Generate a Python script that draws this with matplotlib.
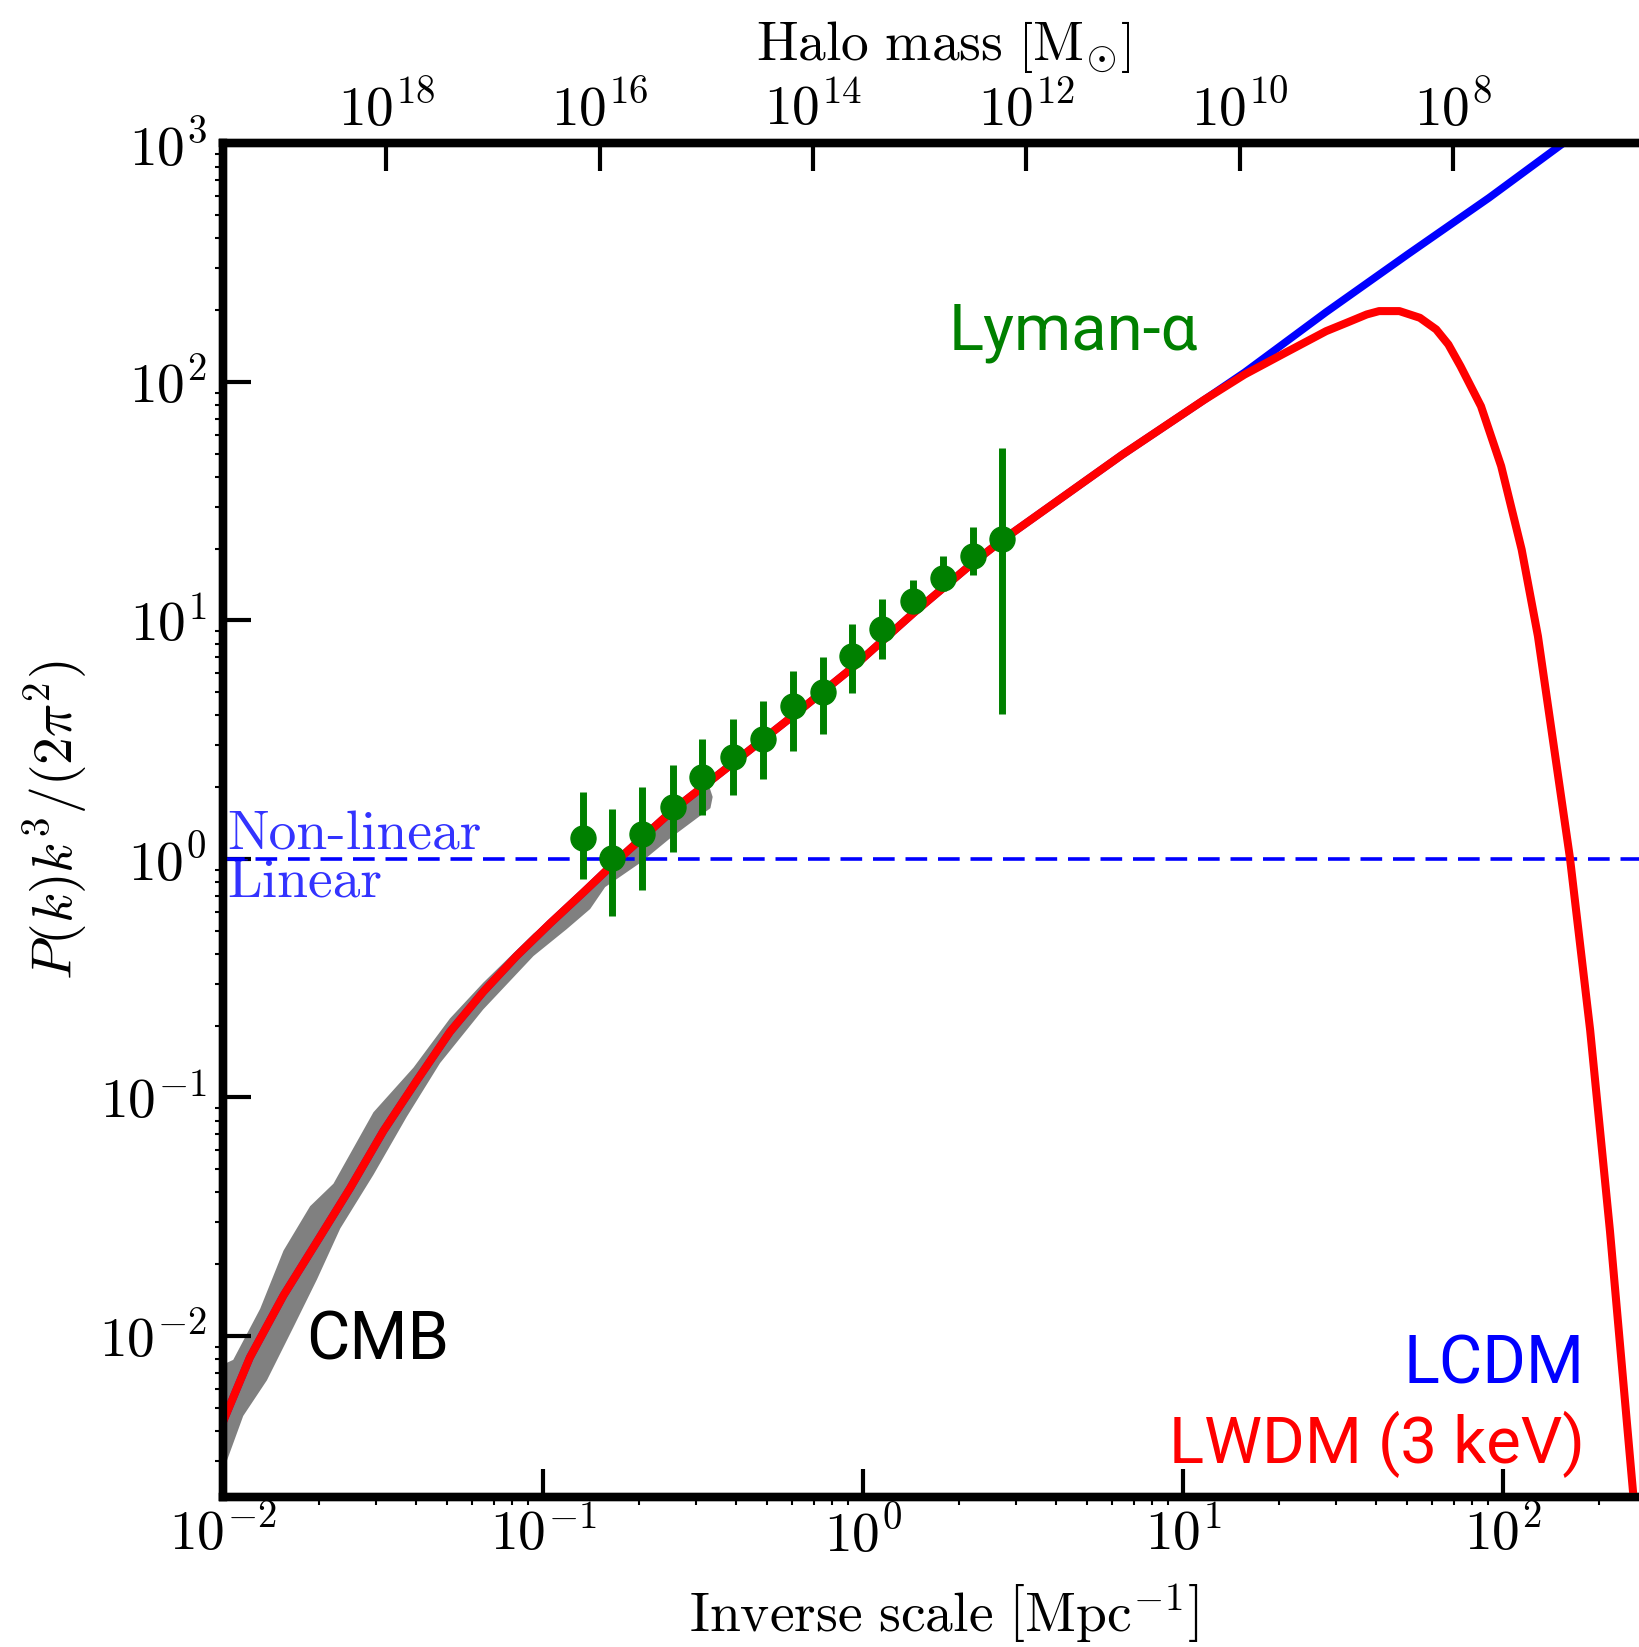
# -*- coding:utf-8 -*-
import numpy as np
import matplotlib
matplotlib.use('Agg')
import matplotlib.pyplot as plt
from matplotlib.ticker import NullLocator

'''
Dimensionless matter power spectrum P(k)k^3/(2pi^2):
LCDM vs LWDM (3 keV), CMB band and Lyman-alpha points,
halo mass on the top axis.
'''

# LWDM (3 keV) curve
lwdm_k = [0.0100, 0.01213, 0.01545, 0.01963, 0.02495, 0.03170, 0.04027, 0.05117,
          0.06501, 0.08260, 0.1052, 0.1337, 0.1660, 0.2547, 0.3908, 0.6039,
          0.9226, 1.435, 2.198, 2.710, 6.457, 11.61, 15.56, 20.84, 27.99, 32.43,
          37.50, 40.97, 47.42, 54.95, 61.80, 67.45, 73.62, 85.31, 98.63, 114.3,
          128.5, 161.8, 187.1, 215.8, 255.3]
lwdm_P = [0.00437, 0.00813, 0.0148, 0.0248, 0.0417, 0.0724, 0.1175, 0.1884,
          0.2773, 0.3917, 0.5370, 0.7244, 0.9550, 1.603, 2.512, 3.981,
          6.310, 10.72, 17.38, 21.63, 49.55, 83.95, 107.4, 132.4, 163.3, 177.0,
          191.9, 198.2, 198.2, 185.8, 166.0, 143.6, 116.4, 79.07, 44.36, 19.82,
          8.59, 1.009, 0.1914, 0.02748, 0.002143]

# LCDM curve
lcdm_k = [0.0100, 0.01213, 0.01545, 0.01963, 0.02495, 0.03170, 0.04027, 0.05117,
          0.06501, 0.08260, 0.1052, 0.1337, 0.1660, 0.2547, 0.3908, 0.6039,
          0.9226, 1.435, 2.198, 2.710, 6.457, 11.61, 15.56, 27.99, 50.35, 90.36,
          153.8]
lcdm_P = [0.00437, 0.00813, 0.0148, 0.0248, 0.0417, 0.0724, 0.1175, 0.1884,
          0.2773, 0.3917, 0.5370, 0.7244, 0.9550, 1.603, 2.512, 3.981,
          6.310, 10.72, 17.38, 21.63, 49.55, 83.95, 109.6, 196.3, 342.8, 591.6,
          1000.0]

# CMB band edges
cmb_k_upper = [0.0100, 0.01076, 0.01306, 0.01545, 0.01871, 0.02213, 0.02951,
               0.03936, 0.05117, 0.06501, 0.09333, 0.1186, 0.1435, 0.1995,
               0.2818, 0.3311, 0.3388]
cmb_P_upper = [0.00759, 0.00794, 0.0130, 0.0228, 0.0350, 0.0435, 0.0867,
               0.1334, 0.2143, 0.3027, 0.4864, 0.6310, 0.8147, 1.259,
               1.820, 2.000, 1.820]
cmb_k_lower = [0.3334, 0.2512, 0.2014, 0.1563, 0.1403, 0.1186, 0.09333,
               0.06501, 0.04764, 0.03750, 0.02951, 0.02323, 0.01963, 0.01660,
               0.01371, 0.01156, 0.01028, 0.0100]
cmb_P_lower = [1.633, 1.230, 0.9638, 0.7621, 0.6166, 0.5082, 0.3917,
               0.2339, 0.1393, 0.0830, 0.0474, 0.0282, 0.0172, 0.0109,
               0.00652, 0.00462, 0.00300, 0.00275]

# Lyman-alpha points
lya_k = [0.1334, 0.1637, 0.2042, 0.2547, 0.3141, 0.3908, 0.4875, 0.6039,
         0.7482, 0.9226, 1.143, 1.435, 1.774, 2.198, 2.710]
lya_P = [1.224, 1.005, 1.274, 1.648, 2.213, 2.685, 3.184, 4.395,
         4.989, 7.112, 9.183, 12.11, 15.00, 18.58, 21.93]
lya_hi = [1.914, 1.614, 2.000, 2.466, 3.184, 3.873, 4.581, 6.152,
          6.998, 9.661, 12.25, 14.76, 18.71, 24.72, 52.97]
lya_lo = [0.8204, 0.5768, 0.7413, 1.069, 1.524, 1.849, 2.163, 2.831,
          3.357, 4.943, 6.887, 10.72, 13.34, 15.52, 4.046]

x_ticks = [1e-2, 1e-1, 1e0, 1e1, 1e2]
x_labels = [r'$10^{-2}$', r'$10^{-1}$', r'$10^{0}$', r'$10^{1}$', r'$10^{2}$']
y_ticks = [1e-2, 1e-1, 1e0, 1e1, 1e2, 1e3]
y_labels = [r'$10^{-2}$', r'$10^{-1}$', r'$10^{0}$', r'$10^{1}$', r'$10^{2}$', r'$10^{3}$']
mass_ticks = [1e18, 1e16, 1e14, 1e12, 1e10, 1e8]
mass_labels = [r'$10^{18}$', r'$10^{16}$', r'$10^{14}$', r'$10^{12}$', r'$10^{10}$', r'$10^{8}$']

# M = C k^-3
log_mass_norm = 13.53


def mass_to_k(m):
    m = np.asarray(m, dtype=float)
    return 10 ** ((log_mass_norm - np.log10(m)) / 3.0)


plt.rcParams['mathtext.fontset'] = 'cm'
sans = ['Roboto', 'Open Sans', 'DejaVu Sans']

fig = plt.figure(figsize=(16.39, 16.47), dpi=100)
ax = fig.add_axes([0.1361, 0.0911, 0.8786, 0.8218])

# CMB band
ax.fill(np.concatenate([cmb_k_upper, cmb_k_lower]),
        np.concatenate([cmb_P_upper, cmb_P_lower]),
        color='#808080', lw=0, zorder=1)

ax.plot(lcdm_k, lcdm_P, color='blue', lw=5.5, zorder=2, solid_joinstyle='round')
ax.axhline(1.0, color='blue', lw=2.6, dashes=(6, 3), zorder=3)
ax.plot(lwdm_k, lwdm_P, color='red', lw=5.8, zorder=4, solid_joinstyle='round')

lya_P_arr = np.array(lya_P)
yerr = [lya_P_arr - np.array(lya_lo), np.array(lya_hi) - lya_P_arr]
ax.errorbar(lya_k, lya_P, yerr=yerr, fmt='o', color='green', ms=18,
            elinewidth=5, capsize=0, zorder=5)

ax.set_xscale('log')
ax.set_yscale('log')
ax.set_xlim(1e-2, 10 ** 2.5)
ax.set_ylim(10 ** -2.675, 1e3)
ax.set_xticks(x_ticks, labels=x_labels)
ax.set_yticks(y_ticks, labels=y_labels)

ax.tick_params(which='major', direction='in', length=20, width=3, labelsize=40)
ax.tick_params(which='minor', direction='out', length=6, width=1.5)
ax.tick_params(axis='x', which='major', pad=8)
ax.tick_params(axis='y', which='major', pad=12)
ax.tick_params(top=False, right=False, which='both')

ax.set_xlabel(r'$\mathrm{Inverse\ scale}\ \left[\mathrm{Mpc}^{-1}\right]$', fontsize=40, labelpad=14)
ax.set_ylabel(r'$P(k)k^3/(2\pi^2)$', fontsize=40, labelpad=6)

# halo mass axis on top
ax2 = ax.twiny()
ax2.set_xscale('log')
ax2.set_xlim(ax.get_xlim())
ax2.set_xticks(mass_to_k(mass_ticks), labels=mass_labels)
ax2.xaxis.set_minor_locator(NullLocator())
ax2.tick_params(which='major', direction='in', length=20, width=3, labelsize=40, pad=4)
ax2.set_xlabel(r'$\mathrm{Halo\ mass}\ \left[\mathrm{M}_{\odot}\right]$', fontsize=40, labelpad=16)

for a in (ax, ax2):
    for s in a.spines.values():
        s.set_linewidth(6)

# annotations
ax.text(0.003, 0.478, 'Non-linear', transform=ax.transAxes, family='cmr10',
        fontsize=40, color='blue', alpha=0.8, va='baseline')
ax.text(0.003, 0.444, 'Linear', transform=ax.transAxes, family='cmr10',
        fontsize=40, color='blue', alpha=0.8, va='baseline')
ax.text(0.504, 0.8474, 'Lyman-α', transform=ax.transAxes, family=sans,
        fontsize=47, color='green', va='baseline')
ax.text(0.0576, 0.1012, 'CMB', transform=ax.transAxes, family=sans,
        fontsize=48, color='black', va='baseline')
ax.text(0.9457, 0.084, 'LCDM', transform=ax.transAxes, family=sans,
        fontsize=48, color='blue', va='baseline', ha='right')
ax.text(0.9457, 0.0249, 'LWDM (3 keV)', transform=ax.transAxes, family=sans,
        fontsize=47, color='red', va='baseline', ha='right')

fig.savefig('out.png', dpi=100)
